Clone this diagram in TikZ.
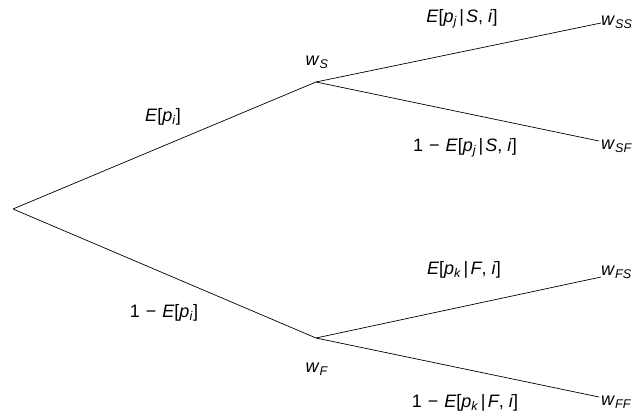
\documentclass[tikz,border=0pt]{standalone}
\usepackage{fontspec}
\setmainfont{Liberation Sans}
\newcommand{\vv}[1]{\textit{#1}}
\newcommand{\sbs}[1]{\textsubscript{\textit{#1}}}
\newcommand{\mn}{\hspace{0.33em}−\hspace{0.33em}}
\newcommand{\mybar}{\hspace{0.12em}|\hspace{0.12em}}
\begin{document}
\begin{tikzpicture}[x=1pt,y=-1pt,
  lbl/.style={font=\fontsize{18}{20}\selectfont, inner sep=0pt},
  leaf/.style={lbl, anchor=west},
  edge/.style={line width=0.7pt, black}]
\useasboundingbox (0,0) rectangle (636,419);
\coordinate (r) at (13,209);
\coordinate (s) at (316,82);
\coordinate (f) at (316,338);
\coordinate (ss) at (601,23);
\coordinate (sf) at (599,141);
\coordinate (fs) at (601,277);
\coordinate (ff) at (599,397);
\draw[edge] (r) -- (s) -- (ss);
\draw[edge] (s) -- (sf);
\draw[edge] (r) -- (f) -- (fs);
\draw[edge] (f) -- (ff);
\node[lbl] (lws) at (317,62) {\vv{w}\sbs{S}};
\node[lbl] (lwf) at (317,369) {\vv{w}\sbs{F}};
\node[leaf] (lss) at (601,22) {\vv{w}\sbs{SS}};
\node[leaf] (lsf) at (601,146) {\vv{w}\sbs{SF}};
\node[leaf] (lfs) at (601,272) {\vv{w}\sbs{FS}};
\node[leaf] (lff) at (601,402) {\vv{w}\sbs{FF}};
\node[lbl] (e1) at (163,117) {\vv{E}[\vv{p}\sbs{i}]};
\node[lbl] (e2) at (164,313) {1\mn\vv{E}[\vv{p}\sbs{i}]};
\node[lbl] (e3) at (462,19) {\vv{E}[\vv{p}\sbs{j}\mybar\vv{S}, \vv{i}]};
\node[lbl] (e4) at (465,148) {1\mn\vv{E}[\vv{p}\sbs{j}\mybar\vv{S}, \vv{i}]};
\node[lbl] (e5) at (464,270) {\vv{E}[\vv{p}\sbs{k}\mybar\vv{F}, \vv{i}]};
\node[lbl] (e6) at (465,403) {1\mn\vv{E}[\vv{p}\sbs{k}\mybar\vv{F}, \vv{i}]};
\end{tikzpicture}
\end{document}
